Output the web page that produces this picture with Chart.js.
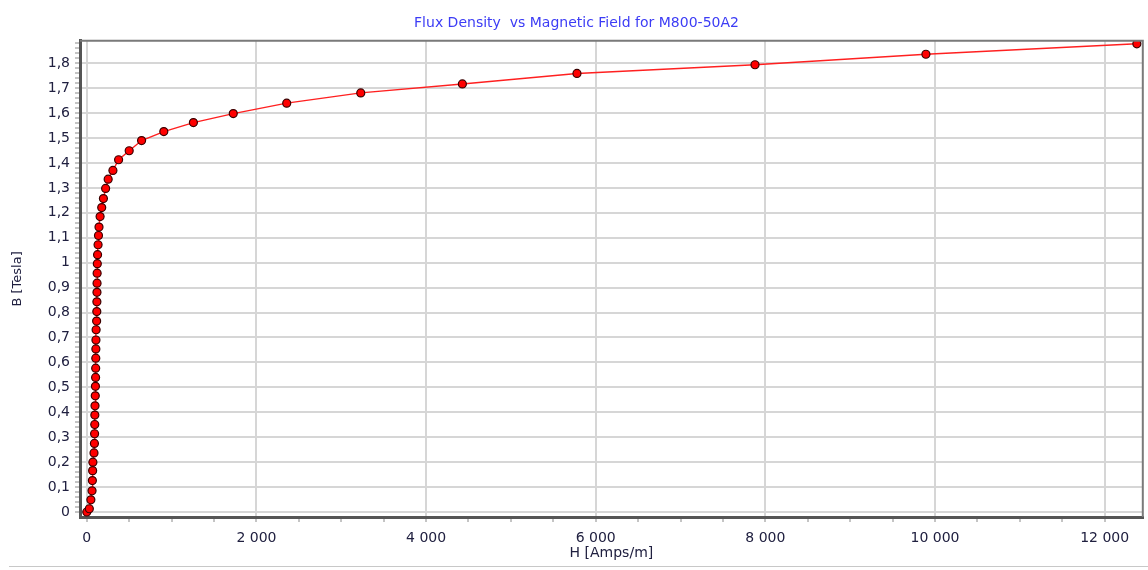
<!DOCTYPE html>
<html>
<head>
<meta charset="utf-8">
<title>Flux Density vs Magnetic Field for M800-50A2</title>
<script src="https://cdn.jsdelivr.net/npm/chart.js@4/dist/chart.umd.min.js"></script>
<style>
  body { margin: 0; background: #fff; }
  .chart-container { position: relative; width: 1148px; height: 570px; }
  .bottom-rule { position: absolute; left: 9px; right: 0; top: 566px; height: 1px; background: #c8c8c8; }
</style>
</head>
<body>
<div class="chart-container">
  <canvas id="myChart" width="1148" height="570"></canvas>
  <div class="bottom-rule"></div>
</div>
<script>
// B-H curve
const hValues = [0, 30, 48, 62, 66, 69, 72, 85, 90, 92, 94, 95, 97, 100, 102, 104, 105, 106, 107, 108,
  110, 116, 118, 119, 120, 121, 122, 124, 127, 133, 138, 144, 157, 176, 196, 222, 252, 308, 375, 500,
  646, 908, 1257, 1727, 2357, 3230, 4428, 5779, 7878, 9893, 12380];
const bValues = [0, 0.013, 0.049, 0.085, 0.126, 0.166, 0.200, 0.237, 0.275, 0.314, 0.351, 0.389, 0.426, 0.466, 0.504, 0.540, 0.577, 0.617, 0.654, 0.690,
  0.731, 0.766, 0.804, 0.843, 0.881, 0.918, 0.958, 0.996, 1.032, 1.072, 1.109, 1.143, 1.185, 1.221, 1.257, 1.298, 1.335, 1.370, 1.413, 1.449,
  1.490, 1.526, 1.562, 1.598, 1.640, 1.681, 1.717, 1.759, 1.794, 1.836, 1.878];

const xTickValues = [0, 2000, 4000, 6000, 8000, 10000, 12000];
const xTickLabels = ['0', '2 000', '4 000', '6 000', '8 000', '10 000', '12 000'];
const yTickValues = [0, 0.1, 0.2, 0.3, 0.4, 0.5, 0.6, 0.7, 0.8, 0.9, 1, 1.1, 1.2, 1.3, 1.4, 1.5, 1.6, 1.7, 1.8];
const yTickLabels = ['0', '0,1', '0,2', '0,3', '0,4', '0,5', '0,6', '0,7', '0,8', '0,9', '1', '1,1', '1,2', '1,3', '1,4', '1,5', '1,6', '1,7', '1,8'];

const textColor = '#202040';
const gridColor = '#d6d6d6';

const points = hValues.map((h, i) => ({ x: h, y: bValues[i] }));

const isMajor = (values, v) => values.some(m => Math.abs(m - v) < 1e-6);
const labelFor = (values, labels, v) => {
  const i = values.findIndex(m => Math.abs(m - v) < 1e-6);
  return i >= 0 ? labels[i] : '';
};

// minor ticks every 500 A/m and 0.02 T, majors are the labelled ones
function minorTicks(from, to, step) {
  const out = [];
  for (let k = 0; from + k * step <= to + 1e-9; k++) {
    out.push({ value: Math.round((from + k * step) * 1000) / 1000 });
  }
  return out;
}

// top and right frame lines
const framePlugin = {
  id: 'frame',
  afterDraw(chart) {
    const { ctx, chartArea: a } = chart;
    ctx.save();
    ctx.strokeStyle = '#7a7a7a';
    ctx.lineWidth = 2;
    ctx.beginPath();
    ctx.moveTo(a.left, a.top);
    ctx.lineTo(a.right, a.top);
    ctx.lineTo(a.right, a.bottom);
    ctx.stroke();
    ctx.restore();
  }
};

const ctx = document.getElementById('myChart').getContext('2d');
new Chart(ctx, {
  type: 'scatter',
  data: {
    datasets: [{
      label: 'B-H',
      data: points,
      showLine: true,
      borderColor: '#ff2020',
      borderWidth: 1.4,
      pointBackgroundColor: '#ff0000',
      pointBorderColor: '#3a0000',
      pointBorderWidth: 1.2,
      pointRadius: 4,
      tension: 0
    }]
  },
  options: {
    responsive: false,
    animation: false,
    layout: { padding: { left: 6, right: 1, top: 0, bottom: 0 } },
    plugins: {
      legend: { display: false },
      tooltip: { enabled: false },
      title: {
        display: true,
        text: 'Flux Density  vs Magnetic Field for M800-50A2',
        color: '#3c3cf5',
        font: { family: 'DejaVu Sans', size: 14, weight: 'normal' },
        padding: { top: 15, bottom: 9 }
      }
    },
    scales: {
      x: {
        type: 'linear',
        min: -80,
        max: 12450,
        afterBuildTicks: scale => { scale.ticks = minorTicks(0, 12000, 500); },
        afterFit: scale => { scale.height = 53; },
        ticks: {
          autoSkip: false,
          maxRotation: 0,
          color: textColor,
          padding: 8,
          font: { family: 'DejaVu Sans', size: 14 },
          callback: v => labelFor(xTickValues, xTickLabels, v)
        },
        grid: {
          color: c => (c.tick && isMajor(xTickValues, c.tick.value)) ? gridColor : 'rgba(0,0,0,0)',
          lineWidth: 2,
          tickColor: '#8a8a8a',
          tickLength: 5,
          tickWidth: 1
        },
        border: { color: '#555', width: 3 },
        title: {
          display: true,
          text: 'H [Amps/m]',
          color: textColor,
          font: { family: 'DejaVu Sans', size: 14 },
          padding: { top: 0, bottom: 8 }
        }
      },
      y: {
        type: 'linear',
        min: -0.02,
        max: 1.89,
        afterBuildTicks: scale => { scale.ticks = minorTicks(0, 1.88, 0.02); },
        afterFit: scale => { scale.width = 74; },
        ticks: {
          autoSkip: false,
          color: textColor,
          padding: 5,
          font: { family: 'DejaVu Sans', size: 14 },
          callback: v => labelFor(yTickValues, yTickLabels, v)
        },
        grid: {
          color: c => (c.tick && isMajor(yTickValues, c.tick.value)) ? gridColor : 'rgba(0,0,0,0)',
          lineWidth: 2,
          tickColor: '#8a8a8a',
          tickLength: 5,
          tickWidth: 1
        },
        border: { color: '#555', width: 3 },
        title: {
          display: true,
          text: 'B [Tesla]',
          color: textColor,
          font: { family: 'DejaVu Sans', size: 13 },
          padding: { top: 4, bottom: 0 }
        }
      }
    }
  },
  plugins: [framePlugin]
});
</script>
</body>
</html>
